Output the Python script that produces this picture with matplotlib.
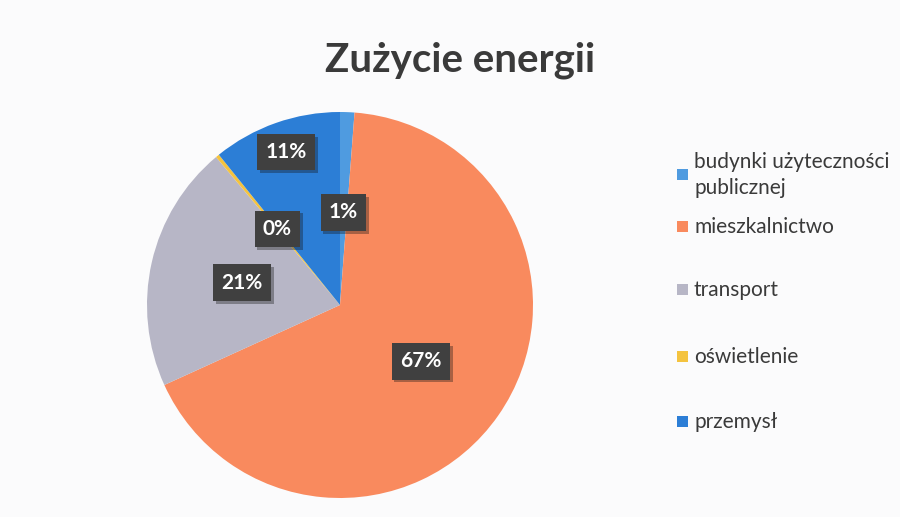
import numpy as np
import matplotlib
matplotlib.use("Agg")
import matplotlib.pyplot as plt
from matplotlib.patches import Rectangle
import matplotlib.patheffects as pe

plt.rcParams['font.family'] = ['Lato', 'DejaVu Sans']

title = "Zużycie energii"
categories = ["budynki użyteczności\npublicznej", "mieszkalnictwo", "transport",
              "oświetlenie", "przemysł"]
values = [1.2, 67.0, 20.7, 0.3, 10.8]
colors = ["#4F9BE0", "#F98A5E", "#B7B6C6", "#F4C33F", "#2C7ED6"]

# label radial distances (layout)
label_dist = [0.48, 0.51, 0.52, 0.51, 0.84]

W, H = 900, 517
fig = plt.figure(figsize=(9, 5.17), dpi=100, facecolor="#fbfbfc")

cx, cy, R = 340, 305, 193
ax = fig.add_axes([(cx - R) / W, (H - cy - R) / H, 2 * R / W, 2 * R / H])
wedges, _ = ax.pie(values, colors=colors, startangle=90, counterclock=False,
                   radius=1.0, wedgeprops=dict(linewidth=0))
ax.set_xlim(-1, 1)
ax.set_ylim(-1, 1)
ax.set_aspect('equal')
ax.axis('off')

total = sum(values)
for w, v, d in zip(wedges, values, label_dist):
    ang = np.deg2rad((w.theta1 + w.theta2) / 2)
    x, y = d * np.cos(ang), d * np.sin(ang)
    t = ax.text(x, y, f"{v / total * 100:.0f}%", ha='center', va='center',
                fontsize=15, fontweight='bold', color='white',
                bbox=dict(boxstyle='square,pad=0.4', fc='#404040', ec='none'))
    t.get_bbox_patch().set_path_effects(
        [pe.SimplePatchShadow(offset=(2, -2), alpha=0.35), pe.Normal()])

fig.text(460 / W, 1 - 60 / H, title, ha='center', va='center',
         fontsize=29, fontweight='bold', color='#3a3a3a')

# manual legend
leg_y = [175, 227, 290, 357, 422]
for lab, col, y in zip(categories, colors, leg_y):
    fig.patches.append(Rectangle((677 / W, 1 - (y + 5) / H), 11 / W, 11 / H,
                                 transform=fig.transFigure, fc=col, ec='none'))
    fig.text(694 / W, 1 - y / H, lab, ha='left', va='center', fontsize=15,
             color='#3a3a3a', linespacing=1.35)

fig.savefig("out.png", dpi=100, facecolor=fig.get_facecolor())
